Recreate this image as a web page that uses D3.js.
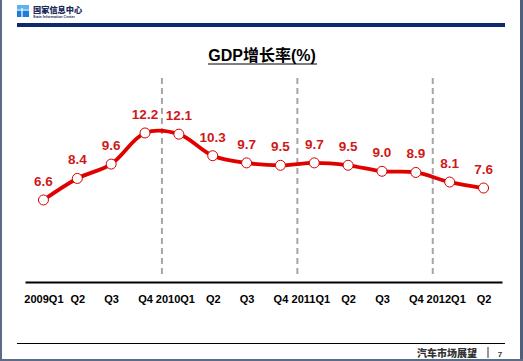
<!DOCTYPE html>
<html>
<head>
<meta charset="utf-8">
<script src="https://cdn.jsdelivr.net/npm/d3@7/dist/d3.min.js"></script>
<style>
  html, body { margin: 0; padding: 0; background: #fff; }
  svg { display: block; }
</style>
</head>
<body>
<div id="chart"></div>
<script>
// ---- data ----
const categories = ["2009Q1","Q2","Q3","Q4","2010Q1","Q2","Q3","Q4","2011Q1","Q2","Q3","Q4","2012Q1","Q2"];
const keys = categories.map((c, i) => i + ":" + c);
const gdpGrowth = [6.6, 8.4, 9.6, 12.2, 12.1, 10.3, 9.7, 9.5, 9.7, 9.5, 9.0, 8.9, 8.1, 7.6];
const labelTexts = ["6.6","8.4","9.6","12.2","12.1","10.3","9.7","9.5","9.7","9.5","9.0","8.9","8.1","7.6"];
const yearStarts = [4, 8, 12]; // indices where a new year begins (dashed separators)
const titleText = "GDP增长率(%)";

const W = 523, H = 361;
const svg = d3.select("#chart").append("svg").attr("width", W).attr("height", H);

// frame
svg.append("rect").attr("x", 0).attr("y", 0).attr("width", W).attr("height", H).attr("fill", "#fff");
svg.append("rect").attr("x", 0).attr("y", 0).attr("width", 2).attr("height", H).attr("fill", "#5b6b88");
svg.append("rect").attr("x", 520).attr("y", 0).attr("width", 3).attr("height", H).attr("fill", "#4f5f7e");
svg.append("rect").attr("x", 0).attr("y", 359).attr("width", W).attr("height", 2).attr("fill", "#5b6b88");

// header: logo + org name + navy bar
const logo = svg.append("g");
logo.append("rect").attr("x", 17).attr("y", 5).attr("width", 12).attr("height", 12).attr("fill", "#1f7fd6");
logo.append("rect").attr("x", 17).attr("y", 5).attr("width", 12).attr("height", 4).attr("fill", "#58b4f0");
logo.append("line").attr("x1", 17).attr("x2", 29).attr("y1", 10).attr("y2", 10).attr("stroke", "#fff").attr("stroke-width", 1.2);
logo.append("line").attr("x1", 22).attr("x2", 22).attr("y1", 8).attr("y2", 17).attr("stroke", "#fff").attr("stroke-width", 1.2);
svg.append("text").attr("x", 33).attr("y", 12.5).text("国家信息中心")
  .attr("font-family", "Noto Sans CJK SC").attr("font-weight", "900").attr("font-size", 8.2).attr("fill", "#1a2a5a");
svg.append("text").attr("x", 33).attr("y", 18).text("State Information Center")
  .attr("font-family", "Arial, Liberation Sans").attr("font-weight", "bold").attr("font-size", 3.6).attr("fill", "#1a2a5a");
svg.append("rect").attr("x", 17).attr("y", 23).attr("width", 488).attr("height", 4).attr("fill", "#0c2a6c");

// title
svg.append("text").attr("x", 262).attr("y", 61).attr("text-anchor", "middle")
  .attr("font-family", "Arial, Liberation Sans, Noto Sans CJK SC").attr("font-weight", "bold")
  .attr("font-size", 16).attr("fill", "#000").text(titleText);
svg.append("line").attr("x1", 208).attr("x2", 317).attr("y1", 64).attr("y2", 64)
  .attr("stroke", "#000").attr("stroke-width", 1.2);

// scales
const x = d3.scalePoint().domain(keys).range([25, 502]).padding(0.545);
const y = d3.scaleLinear().domain([0, 14]).range([279, 279 - 14 * 11.97]);

// year separators
yearStarts.forEach(i => {
  const xm = (x(keys[i - 1]) + x(keys[i])) / 2;
  svg.append("line").attr("x1", xm).attr("x2", xm).attr("y1", 78).attr("y2", 274)
    .attr("stroke", "#a6a6a6").attr("stroke-width", 2).attr("stroke-dasharray", "6,4");
});

// x axis
const axis = d3.axisBottom(x).tickSize(0).tickPadding(13).tickFormat(k => k.split(":")[1]);
const gx = svg.append("g").attr("transform", "translate(0,282)").call(axis);
gx.select(".domain").attr("stroke", "#000").attr("stroke-width", 2);
gx.selectAll("text").attr("font-family", "Arial, Liberation Sans").attr("font-weight", "bold")
  .attr("font-size", 11).attr("fill", "#000")
  .attr("dx", (k, i) => (i > 0 && k.split(":")[1].length > 2) ? -4 : 0);

// line
const line = d3.line().x((d, i) => x(keys[i])).y(d => y(d)).curve(d3.curveCatmullRom.alpha(0.5));
svg.append("path").datum(gdpGrowth).attr("d", line).attr("fill", "none")
  .attr("stroke", "#e00000").attr("stroke-width", 3.8).attr("stroke-linejoin", "round");

// markers
svg.selectAll("circle.pt").data(gdpGrowth).join("circle").attr("class", "pt")
  .attr("cx", (d, i) => x(keys[i])).attr("cy", d => y(d)).attr("r", 5)
  .attr("fill", "#fff").attr("stroke", "#d40000").attr("stroke-width", 1);

// value labels
svg.selectAll("text.val").data(gdpGrowth).join("text").attr("class", "val")
  .attr("x", (d, i) => x(keys[i])).attr("y", d => y(d) - 14)
  .attr("text-anchor", "middle").attr("font-family", "Arial, Liberation Sans")
  .attr("font-weight", "bold").attr("font-size", 13.5).attr("fill", "#d01818")
  .text((d, i) => labelTexts[i]);

// footer
svg.append("line").attr("x1", 17).attr("x2", 505).attr("y1", 343.5).attr("y2", 343.5)
  .attr("stroke", "#000").attr("stroke-width", 1);
svg.append("text").attr("x", 477).attr("y", 357).attr("text-anchor", "end").text("汽车市场展望")
  .attr("font-family", "Noto Sans CJK SC").attr("font-weight", "900").attr("font-size", 10).attr("fill", "#333");
svg.append("line").attr("x1", 488).attr("x2", 488).attr("y1", 347).attr("y2", 358)
  .attr("stroke", "#333").attr("stroke-width", 1);
svg.append("text").attr("x", 500).attr("y", 357).attr("text-anchor", "middle").text("7")
  .attr("font-family", "Arial, Liberation Sans").attr("font-weight", "bold").attr("font-size", 8).attr("fill", "#333");
</script>
</body>
</html>
